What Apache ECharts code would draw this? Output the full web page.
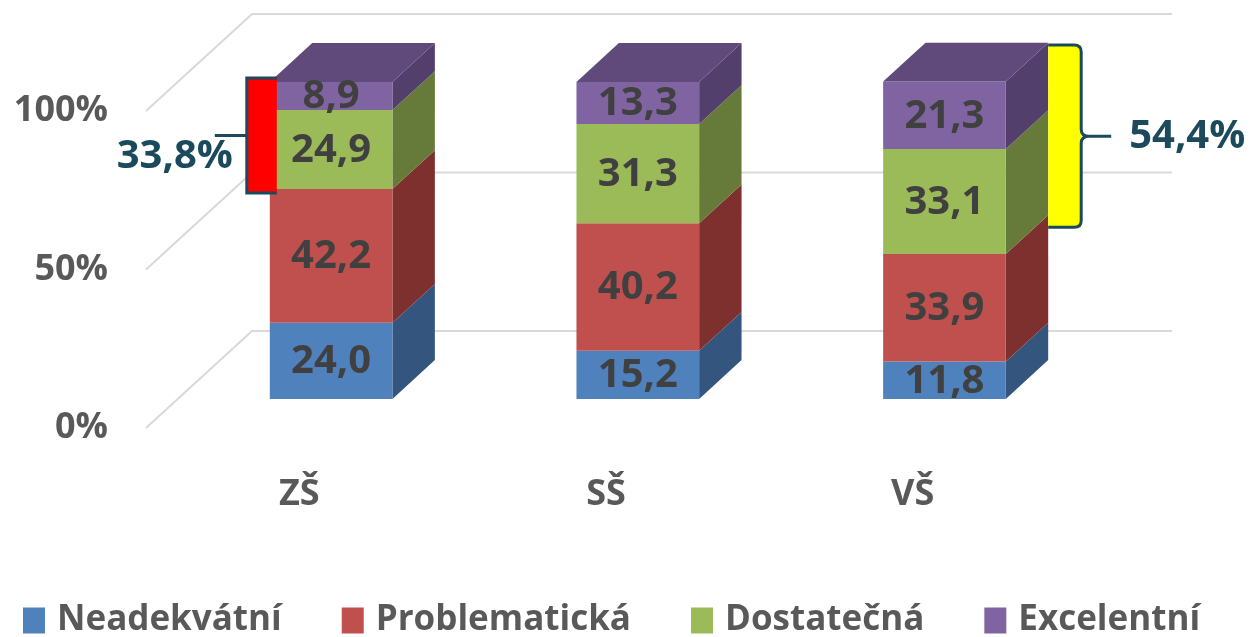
<!DOCTYPE html>
<html style="height: 100%">
<head>
    <meta charset="utf-8">
</head>
<body style="height: 100%; margin: 0; background: #fff">
<div id="container" style="height: 100%"></div>

<script type="text/javascript" src="https://cdn.jsdelivr.net/npm/echarts@6/dist/echarts.min.js"></script>

<script type="text/javascript">
    var categories = ['ZŠ', 'SŠ', 'VŠ'];
    var seriesNames = ['Neadekvátní', 'Problematická', 'Dostatečná', 'Excelentní'];
    var neadekvatni = [24.0, 15.2, 11.8];
    var problematicka = [42.2, 40.2, 33.9];
    var dostatecna = [24.9, 31.3, 33.1];
    var excelentni = [8.9, 13.3, 21.3];
    var yTicks = [0, 50, 100];

    var values = [neadekvatni, problematicka, dostatecna, excelentni];
    var frontColors = ['#4f81bd', '#c0504d', '#9bbb59', '#8064a2'];
    var sideColors = ['#34557e', '#7d302e', '#667a3a', '#523f6b'];
    var topColor = '#604a7c';
    var teal = '#1a4a5c';
    var FONT = '"Open Sans", "Noto Sans", sans-serif';

    // depth of the 3d "room" in px; bars sit between 30% and 70% of it
    var DX = 106, DY = -97;
    var FRONT = 0.3, BACK = 0.7;

    var bases = values.map(function (arr, s) {
        return arr.map(function (v, i) {
            var b = 0;
            for (var k = 0; k < s; k++) b += values[k][i];
            return b;
        });
    });

    function fmt(v) {
        return v.toFixed(1).replace('.', ',');
    }

    function boxRenderer(s) {
        return function (params, api) {
            var i = api.value(0);
            var v = api.value(1);
            var base = bases[s][i];
            var w = api.size([1, 0])[0] * 0.4;
            var p0 = api.coord([i, base]);
            var p1 = api.coord([i, base + v]);
            var bx = (BACK - FRONT) * DX, by = (BACK - FRONT) * DY;
            var x0 = p0[0] + FRONT * DX - w / 2, x1 = x0 + w;
            var yb = p0[1] + FRONT * DY, yt = p1[1] + FRONT * DY;
            var children = [
                {type: 'polygon', shape: {points: [[x1, yt], [x1 + bx, yt + by], [x1 + bx, yb + by], [x1, yb]]},
                    style: {fill: sideColors[s]}},
                {type: 'rect', shape: {x: x0, y: yt, width: w, height: yb - yt},
                    style: {fill: frontColors[s]}}
            ];
            if (s === values.length - 1) {
                children.push({type: 'polygon',
                    shape: {points: [[x0, yt], [x0 + bx, yt + by], [x1 + bx, yt + by], [x1, yt]]},
                    style: {fill: topColor}});
            }
            children.push({type: 'text', style: {
                text: fmt(v), x: (x0 + x1) / 2, y: (yt + yb) / 2 + 1,
                align: 'center', verticalAlign: 'middle',
                fill: '#404040', font: 'bold 40px ' + FONT
            }});
            return {type: 'group', children: children};
        };
    }

    function renderGridLine(params, api) {
        var cs = params.coordSys;
        var y = api.coord([0, api.value(1)])[1];
        return {
            type: 'polyline',
            shape: {points: [[cs.x, y], [cs.x + DX, y + DY], [cs.x + cs.width + DX, y + DY]]},
            style: {stroke: '#d9d9d9', lineWidth: 2, fill: null}
        };
    }

    // brackets: ZŠ (left) and VŠ (right) over dostatečná + excelentní
    var annoData = [0, 2].map(function (i) {
        return [i, neadekvatni[i] + problematicka[i], 100, dostatecna[i] + excelentni[i]];
    });

    function renderAnno(params, api) {
        var i = api.value(0);
        var w = api.size([1, 0])[0] * 0.4;
        var pb = api.coord([i, api.value(1)]);
        var pt = api.coord([i, api.value(2)]);
        var label = fmt(api.value(3)) + '%';
        var x0 = pb[0] + FRONT * DX - w / 2;
        if (i === 0) {
            var yt = pt[1] + FRONT * DY - 4, yb = pb[1] + FRONT * DY + 4;
            var mid = (yt + yb) / 2;
            return {type: 'group', children: [
                {type: 'rect', shape: {x: x0 - 23, y: yt, width: 30, height: yb - yt}, style: {fill: '#ff0000'}},
                {type: 'polyline', shape: {points: [[x0 + 7, yt], [x0 - 23, yt], [x0 - 23, yb], [x0 + 7, yb]]},
                    style: {stroke: teal, lineWidth: 3, fill: null}},
                {type: 'line', shape: {x1: x0 - 55, y1: mid, x2: x0 - 23, y2: mid}, style: {stroke: teal, lineWidth: 3}},
                {type: 'text', style: {text: label, x: x0 - 37, y: mid + 21, align: 'right', verticalAlign: 'middle',
                    fill: teal, font: 'bold 40px ' + FONT}}
            ]};
        }
        var xr = x0 + w + (BACK - FRONT) * DX;
        var t = pt[1] + BACK * DY + 2, b = pb[1] + BACK * DY + 12;
        var m = (t + b) / 2;
        var xe = xr + 33;
        var d = 'M' + xr + ' ' + t + 'L' + (xe - 7) + ' ' + t + 'Q' + xe + ' ' + t + ' ' + xe + ' ' + (t + 7) +
            'L' + xe + ' ' + (m - 7) + 'Q' + xe + ' ' + m + ' ' + (xe + 8) + ' ' + m + 'L' + (xe + 30) + ' ' + m +
            'M' + (xe + 8) + ' ' + m + 'Q' + xe + ' ' + m + ' ' + xe + ' ' + (m + 7) +
            'L' + xe + ' ' + (b - 7) + 'Q' + xe + ' ' + b + ' ' + (xe - 7) + ' ' + b + 'L' + xr + ' ' + b;
        return {type: 'group', children: [
            {type: 'rect', shape: {x: xr, y: t, width: 33, height: b - t}, style: {fill: '#ffff00'}},
            {type: 'path', shape: {pathData: d}, style: {stroke: teal, lineWidth: 3, fill: null}},
            {type: 'text', style: {text: label, x: xr + 81, y: m, align: 'left', verticalAlign: 'middle',
                fill: teal, font: 'bold 40px ' + FONT}}
        ]};
    }

    var dom = document.getElementById('container');
    var myChart = echarts.init(dom);

    var series = [{
        name: 'grid',
        type: 'custom',
        renderItem: renderGridLine,
        data: yTicks.map(function (t) { return [0, t]; }),
        silent: true,
        z: 1
    }];
    seriesNames.forEach(function (name, s) {
        series.push({
            name: name,
            type: 'custom',
            renderItem: boxRenderer(s),
            itemStyle: {color: frontColors[s]},
            data: values[s].map(function (v, i) { return [i, v]; }),
            z: 2
        });
    });
    series.push({
        name: 'anno',
        type: 'custom',
        renderItem: renderAnno,
        data: annoData,
        silent: true,
        z: 3
    });

    var option = {
        animation: false,
        color: frontColors,
        grid: {left: 146, top: 111, width: 920, bottom: 209},
        legend: {
            data: seriesNames,
            left: 18,
            top: 598,
            icon: 'rect',
            itemWidth: 22,
            itemHeight: 26,
            itemGap: 60,
            textStyle: {color: '#595959', fontSize: 35, fontWeight: 'bold', fontFamily: FONT, padding: [0, 0, 0, 7]}
        },
        xAxis: {
            type: 'category',
            data: categories,
            axisLine: {show: false},
            axisTick: {show: false},
            axisLabel: {color: '#595959', fontSize: 36, fontWeight: 'bold', fontFamily: FONT, margin: 49}
        },
        yAxis: {
            type: 'value',
            min: 0,
            max: 100,
            interval: 50,
            splitLine: {show: false},
            axisLine: {show: false},
            axisTick: {show: false},
            axisLabel: {color: '#595959', fontSize: 36, fontWeight: 'bold', fontFamily: FONT, margin: 38, formatter: '{value}%'}
        },
        series: series
    };

    myChart.setOption(option);
</script>
</body>
</html>
